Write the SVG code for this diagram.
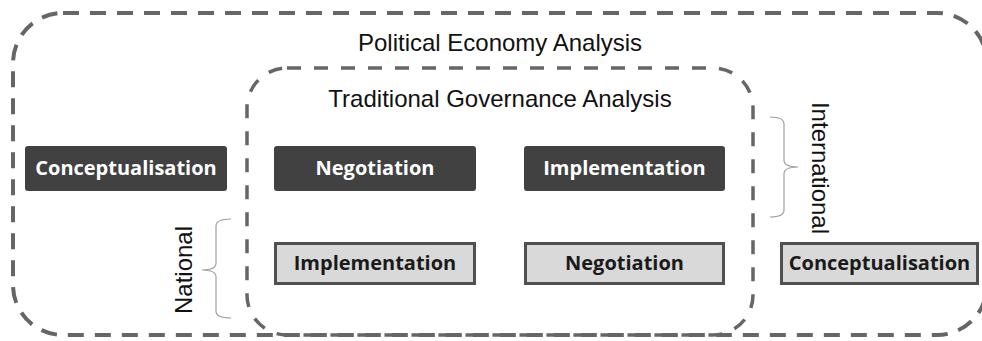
<svg xmlns="http://www.w3.org/2000/svg" width="982" height="341" viewBox="0 0 982 341">
<style>
.frame{fill:none;stroke:#666;stroke-linecap:butt}
.outer{stroke-width:4;stroke-dasharray:16 11}
.inner{stroke-width:3.5;stroke-dasharray:14 13}
.title{font-family:"Liberation Sans",Arial,sans-serif;font-size:24px;fill:#111;text-anchor:middle}
.dark rect{fill:#414141;stroke:none}
.dark text{font-family:"Open Sans","Noto Sans",sans-serif;font-weight:700;font-size:20px;fill:#fff;text-anchor:middle}
.light rect{fill:#d9d9d9;stroke:#505050;stroke-width:3}
.light text{font-family:"Open Sans","Noto Sans",sans-serif;font-weight:700;font-size:20px;fill:#1a1a1a;text-anchor:middle}
.brace{fill:none;stroke:#a0a0a0;stroke-width:1.2}
</style>
<rect width="982" height="341" fill="#fff"/>
<g id="political-economy-analysis">
<rect class="frame outer" x="13" y="13" width="974" height="322" rx="50" ry="50"/>
<text class="title" x="500" y="51">Political Economy Analysis</text>
</g>
<g id="traditional-governance-analysis">
<rect class="frame inner" x="247" y="68" width="506" height="267" rx="40" ry="40"/>
<text class="title" x="500" y="107">Traditional Governance Analysis</text>
</g>
<g id="conceptualisation-national" class="dark">
<rect x="25" y="146" width="202" height="45" rx="3"/>
<text x="126" y="175">Conceptualisation</text>
</g>
<g id="negotiation-national" class="dark">
<rect x="274" y="146" width="202" height="45" rx="3"/>
<text x="375" y="175">Negotiation</text>
</g>
<g id="implementation-international" class="dark">
<rect x="524" y="146" width="201" height="45" rx="3"/>
<text x="624.5" y="175">Implementation</text>
</g>
<g id="implementation-national" class="light">
<rect x="275.5" y="243.5" width="199" height="40"/>
<text x="375" y="270">Implementation</text>
</g>
<g id="negotiation-international" class="light">
<rect x="525.5" y="243.5" width="198" height="40"/>
<text x="624.5" y="270">Negotiation</text>
</g>
<g id="conceptualisation-international" class="light">
<rect x="781.5" y="243.5" width="196" height="40"/>
<text x="879.5" y="270">Conceptualisation</text>
</g>
<g id="braces">
<g id="national-label">
<path class="brace" d="M231,219 Q216,219 216,226 L216,263 Q216,270 202,270 Q216,270 216,277 L216,311 Q216,318 231,318"/>
<text class="title" transform="translate(192,270) rotate(-90)">National</text>
</g>
<g id="international-label">
<path class="brace" d="M770,117 Q784,117 784,124 L784,160 Q784,167 798,167 Q784,167 784,174 L784,210 Q784,217 770,217"/>
<text class="title" transform="translate(812,168) rotate(90)">International</text>
</g>
</g>
</svg>
